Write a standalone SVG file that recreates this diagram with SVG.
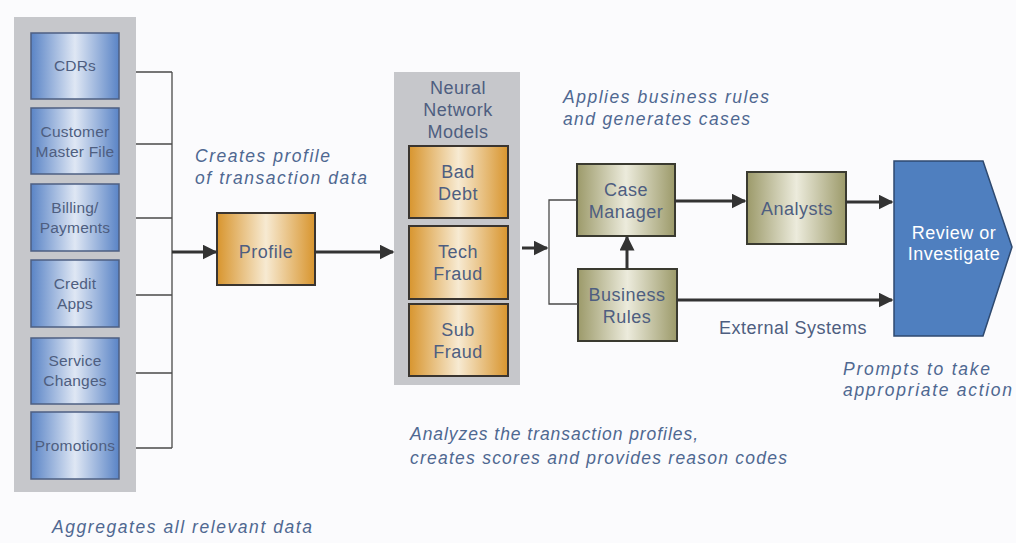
<svg xmlns="http://www.w3.org/2000/svg" width="1016" height="543" viewBox="0 0 1016 543">
<defs>
<linearGradient id="gBlue" x1="0" y1="0" x2="1" y2="0">
<stop offset="0" stop-color="#5a84c6"/><stop offset="0.5" stop-color="#dfe7f4"/><stop offset="1" stop-color="#5a84c6"/>
</linearGradient>
<linearGradient id="gOrange" x1="0" y1="0" x2="1" y2="0">
<stop offset="0" stop-color="#d8952e"/><stop offset="0.5" stop-color="#f7ead2"/><stop offset="1" stop-color="#d8952e"/>
</linearGradient>
<linearGradient id="gOlive" x1="0" y1="0" x2="1" y2="0">
<stop offset="0" stop-color="#9c9a6a"/><stop offset="0.5" stop-color="#ecebdc"/><stop offset="1" stop-color="#9c9a6a"/>
</linearGradient>
<marker id="ah" viewBox="0 0 10 10" refX="9" refY="5" markerWidth="5" markerHeight="5" orient="auto" markerUnits="strokeWidth">
<path d="M0,0 L10,5 L0,10 z" fill="#333"/>
</marker>
<style>
.panel{fill:#c6c7cb}
.blue{fill:url(#gBlue);stroke:#4d5f82;stroke-width:1.5}
.orange{fill:url(#gOrange);stroke:#3a3530;stroke-width:2}
.olive{fill:url(#gOlive);stroke:#3a3a30;stroke-width:2}
.thin{fill:none;stroke:#4a4a4a;stroke-width:1.3}
.arr{fill:none;stroke:#333;stroke-width:3;marker-end:url(#ah)}
.t{font-family:"Liberation Sans",Arial,sans-serif;fill:#4e5e80;text-anchor:middle;letter-spacing:0.5px}
.ts{font-size:15.5px;letter-spacing:0.2px}
.tm{font-size:18px}
.w{fill:#ffffff}
.it{font-family:"Liberation Sans",Arial,sans-serif;font-style:italic;font-size:17.5px;fill:#4f6891}
</style>
</defs>
<rect width="1016" height="543" fill="#fbfbfd"/>

<g id="sources-panel">
<rect class="panel" x="14" y="17" width="122" height="475"/>
</g>
<g id="cdrs"><rect class="blue" x="31" y="33" width="88" height="66"/><text class="t ts" x="75" y="71">CDRs</text></g>
<g id="customer-master-file"><rect class="blue" x="31" y="108" width="88" height="66"/><text class="t ts" x="75" y="137">Customer</text><text class="t ts" x="75" y="157">Master File</text></g>
<g id="billing-payments"><rect class="blue" x="31" y="184" width="88" height="67"/><text class="t ts" x="75" y="213">Billing/</text><text class="t ts" x="75" y="233">Payments</text></g>
<g id="credit-apps"><rect class="blue" x="31" y="260" width="88" height="67"/><text class="t ts" x="75" y="289">Credit</text><text class="t ts" x="75" y="309">Apps</text></g>
<g id="service-changes"><rect class="blue" x="31" y="338" width="88" height="66"/><text class="t ts" x="75" y="366">Service</text><text class="t ts" x="75" y="386">Changes</text></g>
<g id="promotions"><rect class="blue" x="31" y="412" width="88" height="67"/><text class="t ts" x="75" y="451">Promotions</text></g>

<g id="profile"><rect class="orange" x="217" y="213" width="98" height="72"/><text class="t tm" x="266" y="258">Profile</text></g>

<g id="neural-network-models">
<rect class="panel" x="394" y="72" width="126" height="313"/>
<text class="t tm" x="458" y="94">Neural</text>
<text class="t tm" x="458" y="116">Network</text>
<text class="t tm" x="458" y="138">Models</text>
</g>
<g id="bad-debt"><rect class="orange" x="409" y="146" width="99" height="72"/><text class="t tm" x="458" y="178">Bad</text><text class="t tm" x="458" y="200">Debt</text></g>
<g id="tech-fraud"><rect class="orange" x="409" y="226" width="99" height="73"/><text class="t tm" x="458" y="258">Tech</text><text class="t tm" x="458" y="280">Fraud</text></g>
<g id="sub-fraud"><rect class="orange" x="409" y="304" width="99" height="72"/><text class="t tm" x="458" y="336">Sub</text><text class="t tm" x="458" y="358">Fraud</text></g>

<g id="case-manager"><rect class="olive" x="577" y="164" width="98" height="72"/><text class="t tm" x="626" y="196">Case</text><text class="t tm" x="626" y="218">Manager</text></g>
<g id="business-rules"><rect class="olive" x="578" y="269" width="99" height="72"/><text class="t tm" x="627" y="301">Business</text><text class="t tm" x="627" y="323">Rules</text></g>
<g id="analysts"><rect class="olive" x="747" y="172" width="99" height="72"/><text class="t tm" x="797" y="215">Analysts</text></g>
<g id="review-or-investigate"><path d="M894,161 L983,161 L1012,247 L983,336 L894,336 Z" fill="#4f7fbf" stroke="#2f4a70" stroke-width="1.5"/><text class="t tm w" x="954" y="239">Review or</text><text class="t tm w" x="954" y="260">Investigate</text></g>

<g id="connectors">
<path class="thin" d="M136,72 H172 M136,144 H172 M136,218 H172 M136,295 H172 M136,373 H172 M136,448 H172 M172,72 V448"/>
<path class="arr" d="M172,252 H216"/>
<path class="arr" d="M315,252 H393"/>
<path class="arr" d="M522,248 H547"/>
<path class="thin" d="M577,200 H549 V304 H578"/>
<path class="arr" d="M627,269 V237"/>
<path class="arr" d="M675,201 H745"/>
<path class="arr" d="M846,202 H892"/>
<path class="arr" d="M677,300 H892"/>
</g>

<g id="labels">
<text class="it" x="195" y="162" textLength="135" lengthAdjust="spacing">Creates profile</text>
<text class="it" x="195" y="184" textLength="172" lengthAdjust="spacing">of transaction data</text>
<text class="it" x="563" y="103" textLength="206" lengthAdjust="spacing">Applies business rules</text>
<text class="it" x="563" y="125" textLength="187" lengthAdjust="spacing">and generates cases</text>
<text class="it" x="843" y="375" textLength="147" lengthAdjust="spacing">Prompts to take</text>
<text class="it" x="843" y="396" textLength="169" lengthAdjust="spacing">appropriate action</text>
<text class="it" x="410" y="440" textLength="288" lengthAdjust="spacing">Analyzes the transaction profiles,</text>
<text class="it" x="410" y="464" textLength="377" lengthAdjust="spacing">creates scores and provides reason codes</text>
<text class="it" x="52" y="533" textLength="260" lengthAdjust="spacing">Aggregates all relevant data</text>
<text class="t tm" x="793" y="334">External Systems</text>
</g>
</svg>
